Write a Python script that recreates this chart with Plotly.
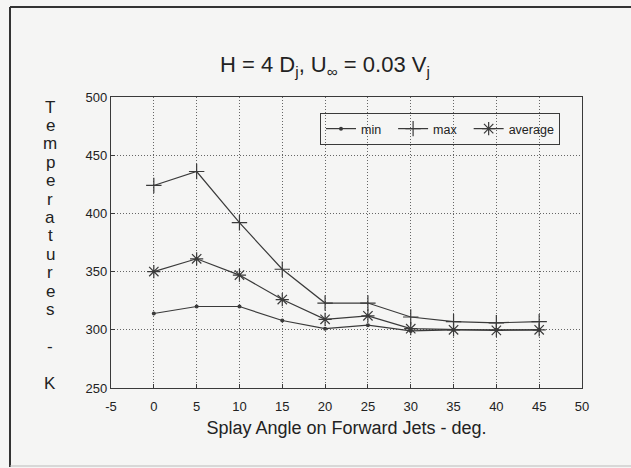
import plotly.graph_objects as go

angles = [0, 5, 10, 15, 20, 25, 30, 35, 40, 45]
t_min = [314, 320, 320, 308, 301, 304, 299, 300, 300, 300]
t_max = [424, 436, 392, 352, 323, 323, 311, 307, 306, 307]
t_avg = [350, 361, 347, 326, 309, 312, 301, 300, 299.5, 300]
x_ticks = [-5, 0, 5, 10, 15, 20, 25, 30, 35, 40, 45, 50]
y_ticks = [250, 300, 350, 400, 450, 500]
y_label_chars = list("Temperatures") + [" ", "-", " ", "K"]

ink = "#3a3a3a"
bg = "#f5f5f4"
W, H = 631, 468
L, R, T, B = 111, 49, 97, 80
pw, ph = W - L - R, H - T - B

def px_x(p):
    return (p - L) / pw

def px_y(p):
    return (H - B - p) / ph

pad = "\u00a0\u00a0"
fig = go.Figure()
fig.add_trace(go.Scatter(x=angles, y=t_min, name="min" + pad, mode="lines+markers",
                         line=dict(color=ink, width=1.2),
                         marker=dict(symbol="circle", size=4, color=ink)))
fig.add_trace(go.Scatter(x=angles, y=t_max, name="max" + pad, mode="lines+markers",
                         line=dict(color=ink, width=1.2),
                         marker=dict(symbol="cross-thin", size=11, color=ink,
                                     line=dict(color=ink, width=1.2))))
fig.add_trace(go.Scatter(x=angles, y=t_avg, name="average", mode="lines+markers",
                         line=dict(color=ink, width=1.2),
                         marker=dict(symbol="asterisk-open", size=11, color=ink,
                                     line=dict(color=ink, width=1.2))))

font = "Liberation Sans, Arial, sans-serif"
grid_dash = "1px,2px"
fig.update_layout(
    width=W, height=H,
    margin=dict(l=L, r=R, t=T, b=B),
    paper_bgcolor=bg, plot_bgcolor=bg,
    font=dict(family=font, color="#222", size=12),
    showlegend=True,
    legend=dict(orientation="h", x=px_x(320), y=px_y(113), xanchor="left", yanchor="top",
                bordercolor=ink, borderwidth=1, bgcolor="rgba(0,0,0,0)",
                font=dict(size=12.5, color="#222"), itemwidth=30,
                tracegroupgap=0),
    xaxis=dict(range=[-5, 50], tickvals=x_ticks, ticktext=[str(v) for v in x_ticks],
               showline=True, linecolor=ink, linewidth=1.2, mirror=True,
               ticks="inside", ticklen=4, tickcolor=ink, ticklabelstandoff=6,
               showgrid=True, gridcolor="#666", griddash=grid_dash, gridwidth=1,
               zeroline=False, tickfont=dict(size=13),
               title=dict(text="Splay Angle on Forward Jets - deg.",
                          font=dict(size=18), standoff=8)),
    yaxis=dict(range=[250, 500], tickvals=y_ticks, ticktext=[str(v) for v in y_ticks],
               showline=True, linecolor=ink, linewidth=1.2, mirror=True,
               ticks="inside", ticklen=4, tickcolor=ink,
               showgrid=True, gridcolor="#666", griddash=grid_dash, gridwidth=1,
               zeroline=False, tickfont=dict(size=13)),
)

fig.add_annotation(text="H = 4 D<sub>j</sub>, U<sub>\u221e</sub> = 0.03 V<sub>j</sub>",
                   x=px_x(325), y=px_y(66), xref="paper", yref="paper",
                   xanchor="center", yanchor="middle", showarrow=False,
                   font=dict(size=22, color="#222"))

for i, ch in enumerate(y_label_chars):
    if ch.strip() == "":
        continue
    fig.add_annotation(text=ch, x=px_x(50), y=px_y(107 + i * 18.4), xref="paper", yref="paper",
                       xanchor="center", yanchor="middle", showarrow=False,
                       font=dict(size=17, color="#222"))

# scanned frame border
fig.add_shape(type="line", xref="paper", yref="paper", x0=px_x(10), x1=px_x(631),
              y0=px_y(7), y1=px_y(7), line=dict(color="#333", width=2))
fig.add_shape(type="line", xref="paper", yref="paper", x0=px_x(10), x1=px_x(10),
              y0=px_y(7), y1=px_y(467), line=dict(color="#333", width=2))
fig.add_shape(type="line", xref="paper", yref="paper", x0=px_x(10), x1=px_x(631),
              y0=px_y(466), y1=px_y(466), line=dict(color="#bbb", width=1))

fig.write_html("out.html", config={"displayModeBar": False},
               post_script="document.body.style.margin='0';document.body.style.overflow='hidden';")
